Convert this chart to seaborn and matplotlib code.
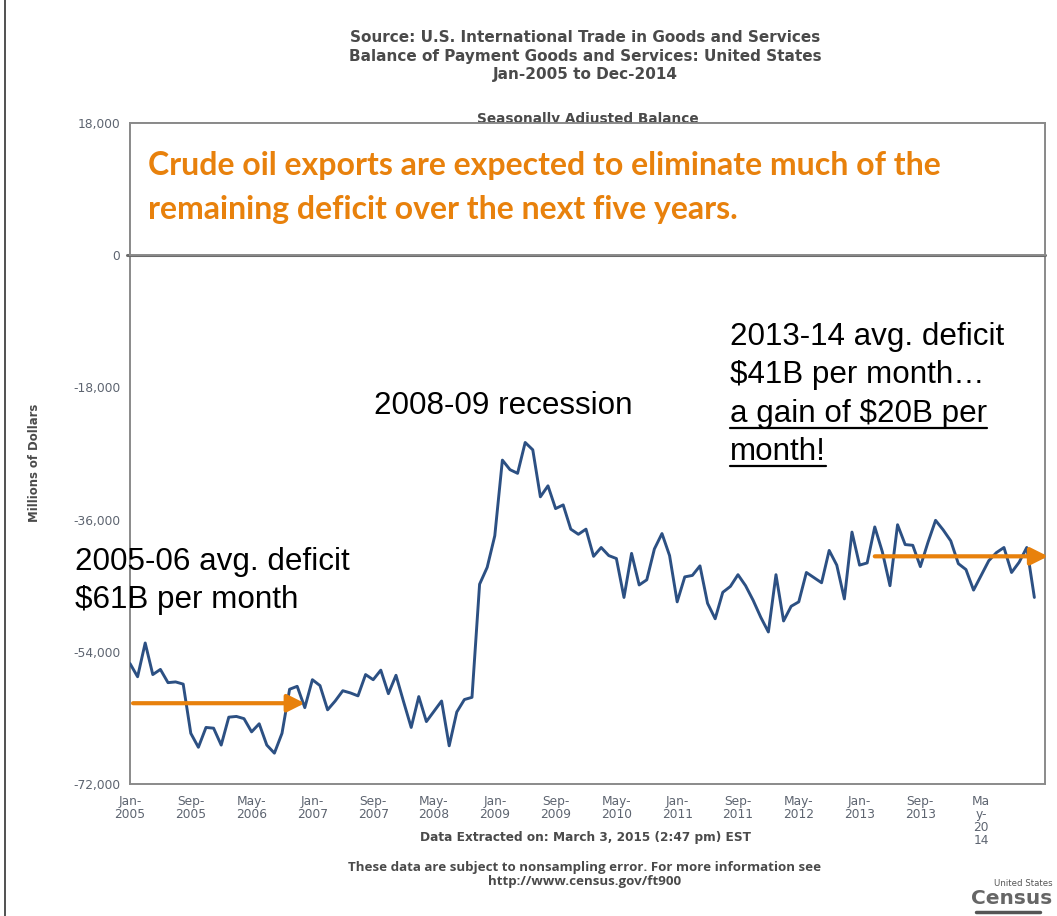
import numpy as np
import pandas as pd
import matplotlib
matplotlib.use("Agg")
import matplotlib.pyplot as plt
from matplotlib.patches import Rectangle
from matplotlib.lines import Line2D
import seaborn as sns

# Monthly goods & services balance, millions of dollars, Jan-2005 .. Dec-2014
balance = [
    -55600, -57400, -52800, -57100, -56400, -58200, -58100, -58400, -65100, -67000, -64300, -64400,
    -66700, -62900, -62800, -63100, -64900, -63800, -66700, -67800, -65100, -59100, -58700, -61600,
    -57800, -58600, -61900, -60700, -59300, -59600, -60000, -57100, -57800, -56500, -59700, -57200,
    -60800, -64300, -60100, -63500, -62100, -60700, -66800, -62200, -60500, -60200, -44800, -42500,
    -38200, -27900, -29200, -29700, -25500, -26500, -32900, -31400, -34500, -34000, -37300, -38000,
    -37300, -41000, -39800, -40900, -41300, -46600, -40600, -44900, -44200, -40000, -37900, -40900,
    -47200, -43800, -43600, -42300, -47400, -49500, -45900, -45100, -43500, -45000, -47000, -49300,
    -51300, -43500, -49800, -47800, -47200, -43200, -43900, -44600, -40200, -42200, -46800, -37700,
    -42200, -41900, -37000, -40400, -45000, -36700, -39400, -39500, -42400, -39100, -36100, -37400,
    -38900, -42000, -42800, -45600, -43600, -41600, -40500, -39800, -43200, -41800, -39800, -46600,
]
months = pd.date_range("2005-01-01", periods=len(balance), freq="MS")

tick_labels = ["Jan-\n2005", "Sep-\n2005", "May-\n2006", "Jan-\n2007", "Sep-\n2007",
               "May-\n2008", "Jan-\n2009", "Sep-\n2009", "May-\n2010", "Jan-\n2011",
               "Sep-\n2011", "May-\n2012", "Jan-\n2013", "Sep-\n2013", "Ma\ny-\n20\n14"]
y_ticks = [18000, 0, -18000, -36000, -54000, -72000]

# Average-deficit markers (start month index, end month index, average)
early_avg = (0.4, 23.0, -61000)
late_avg = (98.0, 120.8, -41000)

df = pd.DataFrame({"month": np.arange(len(balance)), "balance": balance, "date": months})

W, H = 1057, 916
sns.set_theme(style="white")
plt.rcParams["font.family"] = ["DejaVu Sans"]

fig = plt.figure(figsize=(W / 100, H / 100), dpi=100)
ax = fig.add_axes([130 / W, 1 - 784 / H, (1045 - 130) / W, (784 - 123) / H])


def fx(x):
    return x / W


def fy(y):
    return 1 - y / H


line_color = "#2c5083"
orange = "#e8810c"
gray_txt = "#4a4a4a"
tick_color = "#5d6470"

sns.lineplot(data=df, x="month", y="balance", ax=ax, color=line_color, linewidth=2.1, zorder=3)

ax.set_xlim(0, 120.4)
ax.set_ylim(-72000, 18000)
ax.set_yticks(y_ticks)
ax.set_yticklabels([f"{v:,}" for v in y_ticks], fontsize=8.8, color=tick_color)
ax.set_xticks(np.arange(0, 113, 8))
ax.set_xticklabels(tick_labels, fontsize=8.8, color=tick_color, linespacing=1.0, va="top")
ax.tick_params(axis="both", length=0)
ax.tick_params(axis="x", pad=8)
ax.tick_params(axis="y", pad=7)
ax.set_xlabel("")
ax.set_ylabel("")
for s in ax.spines.values():
    s.set_color("#8a8a8a")
    s.set_linewidth(1.4)

# Zero line
ax.axhline(0, xmin=-0.003, color="#6b6b6b", linewidth=2.2, zorder=4, clip_on=False)

# Chart subtitle sitting on the top frame (descenders tucked under the callout box)
ax.text(0.5, 1.0, "Seasonally Adjusted Balance", transform=ax.transAxes, ha="center",
        va="baseline", fontsize=9.8, fontweight="bold", color=gray_txt, zorder=1, clip_on=False)
# Callout box over the positive region
ax.add_patch(Rectangle((0, 0), 120.4, 18000, facecolor="white", edgecolor="#8a8a8a",
                       linewidth=1.4, zorder=5, clip_on=False))

# Average markers
for x0, x1, v in (early_avg, late_avg):
    ax.annotate("", xy=(x1, v), xytext=(x0, v),
                arrowprops=dict(arrowstyle="-|>", color=orange, lw=3.0, mutation_scale=26,
                                shrinkA=0, shrinkB=0),
                annotation_clip=False, zorder=6)

# Header
head = ["Source: U.S. International Trade in Goods and Services",
        "Balance of Payment Goods and Services: United States",
        "Jan-2005 to Dec-2014"]
for i, t in enumerate(head):
    fig.text(fx(585), fy(37 + 19 * i), t, ha="center", va="center", fontsize=11.0,
             fontweight="bold", color=gray_txt)

fig.text(fx(35), fy(463), "Millions of Dollars", rotation=90, ha="center", va="center",
         fontsize=8.4, fontweight="bold", color=gray_txt)

fig.text(fx(585), fy(838), "Data Extracted on: March 3, 2015 (2:47 pm) EST", ha="center",
         va="center", fontsize=8.7, fontweight="bold", color=gray_txt)
fig.text(fx(585), fy(867), "These data are subject to nonsampling error. For more information see",
         ha="center", va="center", fontsize=9.6, fontweight="bold", color=gray_txt,
         family="Open Sans")
fig.text(fx(585), fy(882), "http://www.census.gov/ft900", ha="center", va="center",
         fontsize=9.6, fontweight="bold", color=gray_txt, family="Open Sans")

# Census wordmark
fig.text(fx(1053), fy(884), "United States", ha="right", va="center", fontsize=6.2,
         color="#555555", family="Liberation Sans Narrow")
fig.text(fx(1052), fy(899), "Census", ha="right", va="center", fontsize=14.5, fontweight="bold",
         color="#666666", family="Liberation Sans Narrow")
fig.add_artist(Line2D([fx(976), fx(1040)], [fy(912), fy(912)], color="#555555", linewidth=2.5))

# Callout message
msg_kw = dict(ha="left", va="center", fontsize=23, fontweight="bold", color=orange,
              family="Lato", zorder=10)
fig.text(fx(148), fy(166), "Crude oil exports are expected to eliminate much of the", **msg_kw)
fig.text(fx(148), fy(209), "remaining deficit over the next five years.", **msg_kw)

# Annotations
ann_kw = dict(ha="left", va="center", fontsize=22.6, color="black", family="Liberation Sans")
fig.text(fx(75), fy(562), "2005-06 avg. deficit", **ann_kw)
fig.text(fx(75), fy(600), "$61B per month", **ann_kw)
fig.text(fx(374), fy(406), "2008-09 recession", **ann_kw)
fig.text(fx(730), fy(337), "2013-14 avg. deficit", **ann_kw)
fig.text(fx(730), fy(375), "$41B per month\u2026", **ann_kw)
u1 = fig.text(fx(730), fy(414), "a gain of $20B per", **ann_kw)
u2 = fig.text(fx(730), fy(452), "month!", **ann_kw)

# Outer frame edge
fig.add_artist(Line2D([fx(5), fx(5)], [0, 1], color="#333333", linewidth=1.2))

fig.canvas.draw()
renderer = fig.canvas.get_renderer()
for t in (u1, u2):
    bb = t.get_window_extent(renderer)
    yb = bb.y0 + 1
    fig.add_artist(Line2D([bb.x0 / W, bb.x1 / W], [yb / H, yb / H], color="black", linewidth=1.6))

fig.savefig("out.png", dpi=100, facecolor="white")
